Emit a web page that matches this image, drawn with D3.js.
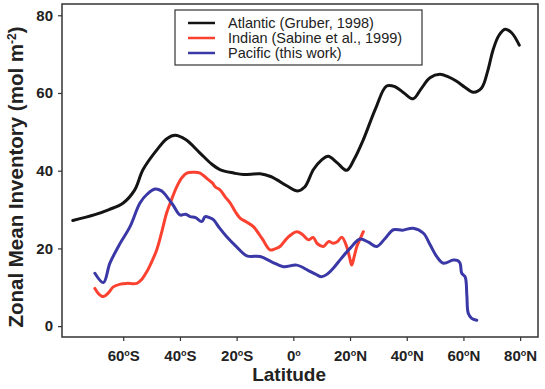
<!DOCTYPE html>
<html>
<head>
<meta charset="utf-8">
<script src="https://cdn.jsdelivr.net/npm/d3@7"></script>
<style>
  body { margin: 0; background: #fff; }
  svg text { font-family: "Liberation Sans", Arial, sans-serif; fill: #222; }
</style>
</head>
<body>
<div id="chart"></div>
<script>
// data: [latitude, inventory]
const atlantic = [[-77.8,27.2],[-70,28.7],[-65,30],[-60,31.7],[-56,35],[-53,40.3],[-48,45.5],[-44.5,48.3],[-41.7,49.1],[-38,48],
  [-33,44.6],[-29,41.8],[-25.9,40.3],[-21,39.4],[-17.6,39],[-11.7,39.2],[-8,38.5],[-5.9,37.7],[-2,36],[1.5,34.8],[4,35.8],
  [7.1,40.3],[10,42.8],[12.3,43.7],[15.5,42],[18.8,40.1],[21.5,43],[24.7,48],[29,56],[32.9,61.8],[35.9,61.6],[39,60],
  [42.3,58.5],[45,61],[48.2,63.9],[51.7,64.8],[54.5,64.2],[57.6,63],[60.5,61.5],[63.5,60.2],[66.4,61.3],[68.5,65.5],
  [70.5,71.2],[72.5,74.8],[74.7,76.4],[77,75.5],[79.7,72.3]];
const indian = [[-70,9.7],[-68.5,8.2],[-67,7.6],[-65.3,8.5],[-63.5,10.1],[-61,10.8],[-58.8,11],[-55.2,11],[-53.5,12],[-51.7,14],
  [-50,16.5],[-48.2,19.6],[-46.5,24],[-44.7,29.1],[-43,32.5],[-41.1,35.9],[-39.3,38.2],[-37.6,39.4],[-35,39.6],[-32.9,39.4],
  [-30,37.7],[-28.5,36.8],[-27.5,35.8],[-25.9,35.1],[-24,33.2],[-22.3,31.7],[-20.5,29.5],[-18.8,27.8],[-16.5,26.8],[-14.1,25.6],
  [-11,22.5],[-8.2,19.6],[-6.5,19.9],[-4.7,20.5],[-2,22.8],[1.2,24.3],[3.2,23.6],[5.3,22.2],[7,22.8],[8.5,21.2],[10.6,20.5],
  [12.5,21.8],[14.1,21.3],[15.5,21.7],[17.1,22.9],[18.8,20.5],[19.8,17.8],[20.6,15.7],[21.5,18],[22.4,20.5],[23.6,22.5],[24.7,24.3]];
const pacific = [[-70,13.6],[-67,11.2],[-64.7,16.2],[-61.1,21.3],[-57.6,25.6],[-54.1,31.7],[-51.5,34],[-48.8,35.3],[-46.5,34.8],
  [-44.7,33.4],[-42.3,31],[-40,28.6],[-38,28.8],[-36.4,28.2],[-34.5,27.9],[-32.3,26.9],[-31.1,28.2],[-29.5,27.9],[-28.2,27.4],
  [-26,25.2],[-23.5,23],[-20,20.4],[-16.4,18.1],[-11.7,17.9],[-7.5,16.5],[-3.5,15.3],[1.2,15.7],[5.3,14.3],[8,13.3],[10,12.7],
  [12,13.4],[14.1,14.9],[17,17.5],[20,20],[23.5,22.4],[26.5,21.6],[29.4,20.5],[32.3,22.5],[35.3,24.8],[38.5,24.7],[42.3,25.2],
  [45.9,23.9],[48.2,21],[50.6,17.9],[52.9,16.2],[56.4,17],[57.8,16.9],[58.8,16.2],[59.4,13.6],[60.6,12.7],[61.2,8],[61.7,3.3],
  [62.9,2],[64.7,1.5]];

const xTicks = [-60, -40, -20, 0, 20, 40, 60, 80];
const yTicks = [0, 20, 40, 60, 80];
const seriesNames = ["Atlantic (Gruber, 1998)", "Indian (Sabine et al., 1999)", "Pacific (this work)"];
const colors = ["#141414", "#fb4231", "#3a38a6"];

const W = 545, H = 389;
const margin = { top: 4, right: 7, bottom: 52, left: 62 };
const width = W - margin.left - margin.right;
const height = H - margin.top - margin.bottom;

const svg = d3.select("#chart").append("svg")
  .attr("width", W).attr("height", H);
const g = svg.append("g").attr("transform", `translate(${margin.left},${margin.top})`);

const x = d3.scaleLinear().domain([-81.6, 86.3]).range([0, width]);
const y = d3.scaleLinear().domain([-2.8, 82.9]).range([height, 0]);

// frame
g.append("rect")
  .attr("width", width).attr("height", height)
  .attr("fill", "none").attr("stroke", "#333").attr("stroke-width", 1.5);

// x axis
const xAxis = g.append("g")
  .attr("transform", `translate(0,${height})`)
  .call(d3.axisBottom(x).tickValues(xTicks).tickSize(4).tickPadding(9).tickFormat(""));
xAxis.select(".domain").remove();
xAxis.selectAll("line").attr("stroke", "#333").attr("stroke-width", 1.2);
xAxis.selectAll("text").each(function(d) {
  const t = d3.select(this).style("font-size", "15px").style("font-weight", "bold").attr("fill", "#222");
  t.append("tspan").text(Math.abs(d));
  t.append("tspan").text("o").style("font-size", "9px").attr("dy", -5);
  if (d !== 0) t.append("tspan").text(d < 0 ? "S" : "N").attr("dy", 5);
});

// y axis
const yAxis = g.append("g")
  .call(d3.axisLeft(y).tickValues(yTicks).tickSize(4).tickPadding(5));
yAxis.select(".domain").remove();
yAxis.selectAll("line").attr("stroke", "#333").attr("stroke-width", 1.2);
yAxis.selectAll("text").style("font-size", "15px").style("font-weight", "bold").attr("fill", "#222");

// axis titles
svg.append("text")
  .attr("x", margin.left + x(-1.5)).attr("y", 381)
  .attr("text-anchor", "middle")
  .style("font-size", "19px").style("font-weight", "bold")
  .text("Latitude");

const yt = svg.append("text")
  .attr("transform", `translate(23,${177}) rotate(-90)`)
  .attr("text-anchor", "middle")
  .style("font-size", "20.5px").style("font-weight", "bold");
yt.append("tspan").text("Zonal Mean Inventory (mol m");
yt.append("tspan").text("-2").style("font-size", "12px").attr("dy", -7);
yt.append("tspan").text(")").attr("dy", 7);

// lines
const line = d3.line()
  .x(d => x(d[0]))
  .y(d => y(d[1]))
  .curve(d3.curveCatmullRom);

[atlantic, indian, pacific].forEach((s, i) => {
  g.append("path")
    .datum(s)
    .attr("fill", "none")
    .attr("stroke", colors[i])
    .attr("stroke-width", 3)
    .attr("stroke-linejoin", "round")
    .attr("stroke-linecap", "round")
    .attr("d", line);
});

// legend
const lg = svg.append("g").attr("transform", "translate(175,10)");
lg.append("rect")
  .attr("width", 247).attr("height", 55)
  .attr("fill", "#fff").attr("stroke", "#333").attr("stroke-width", 1.2);
seriesNames.forEach((name, i) => {
  const yy = 13 + i * 15;
  lg.append("line")
    .attr("x1", 13).attr("x2", 40).attr("y1", yy).attr("y2", yy)
    .attr("stroke", colors[i]).attr("stroke-width", 2.5);
  lg.append("text")
    .attr("x", 53).attr("y", yy + 5)
    .style("font-size", "14.5px")
    .text(name);
});
</script>
</body>
</html>
